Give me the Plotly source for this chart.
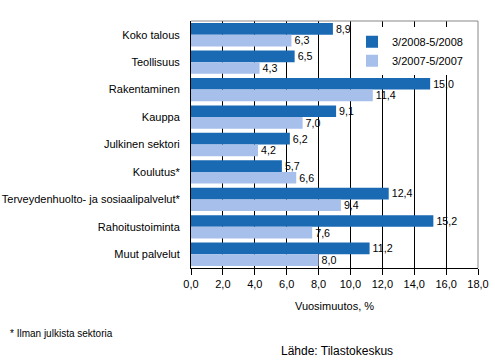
import plotly.graph_objects as go

categories = ["Koko talous", "Teollisuus", "Rakentaminen", "Kauppa", "Julkinen sektori",
              "Koulutus*", "Terveydenhuolto- ja sosiaalipalvelut*", "Rahoitustoiminta", "Muut palvelut"]
s2008 = [8.9, 6.5, 15.0, 9.1, 6.2, 5.7, 12.4, 15.2, 11.2]
s2007 = [6.3, 4.3, 11.4, 7.0, 4.2, 6.6, 9.4, 7.6, 8.0]
name2008 = "3/2008-5/2008"
name2007 = "3/2007-5/2007"
xticks = [0, 2, 4, 6, 8, 10, 12, 14, 16, 18]

FONT = "Liberation Sans, Arial, sans-serif"

fig = go.Figure()
fig.add_trace(go.Bar(y=categories, x=s2008, name=name2008, orientation="h",
                     marker=dict(color="#1a69b3", line=dict(width=0)),
                     text=s2008, texttemplate="%{x:.1f}", textposition="outside",
                     textfont=dict(size=11, color="black", family=FONT), cliponaxis=False))
fig.add_trace(go.Bar(y=categories, x=s2007, name=name2007, orientation="h",
                     marker=dict(color="#a7bfeb", line=dict(width=0)),
                     text=s2007, texttemplate="%{x:.1f}", textposition="outside",
                     textfont=dict(size=11, color="black", family=FONT), cliponaxis=False))

fig.update_layout(
    width=495, height=361,
    margin=dict(l=191, r=17, t=21, b=93),
    paper_bgcolor="white", plot_bgcolor="white",
    separators=",.",
    barmode="group", bargap=0.15, bargroupgap=0,
    font=dict(family=FONT, size=11, color="black"),
    showlegend=True,
    legend=dict(x=(352-191)/287, y=0.975, xanchor="left", yanchor="top", bgcolor="white",
                traceorder="normal", font=dict(size=11, color="black"),
                itemwidth=30),
    xaxis=dict(range=[0, 18], tickvals=xticks, tickformat=".1f", automargin=False,
               showgrid=True, gridcolor="black", gridwidth=1,
               showline=True, linecolor="black", linewidth=1,
               ticks="outside", ticklen=6, tickcolor="black",
               tickfont=dict(size=11, color="black"),
               title=dict(text="Vuosimuutos, %", font=dict(size=11, color="black"), standoff=13),
               zeroline=False),
    yaxis=dict(autorange="reversed", showline=True, linecolor="black", linewidth=1,
               automargin=False,
               ticks="", ticklabelstandoff=8, tickfont=dict(size=11, color="black"),
               showgrid=False),
)
fig.add_shape(type="line", xref="paper", yref="paper", x0=0, x1=1, y0=1, y1=1,
              line=dict(color="#888888", width=1))
fig.add_shape(type="line", xref="paper", yref="paper", x0=1, x1=1, y0=0, y1=1,
              line=dict(color="#888888", width=1))
fig.add_annotation(text="* Ilman julkista sektoria", xref="paper", yref="paper",
                   x=-183/287, y=-65/247, xanchor="left", yanchor="middle", showarrow=False,
                   font=dict(size=10, color="black"))
fig.add_annotation(text="Lähde: Tilastokeskus", xref="paper", yref="paper",
                   x=(337-191)/287, y=-83/247, xanchor="center", yanchor="middle", showarrow=False,
                   font=dict(size=12, color="black"))
fig.write_html("out.html", config={"displayModeBar": False},
               post_script="document.body.style.margin='0';")
